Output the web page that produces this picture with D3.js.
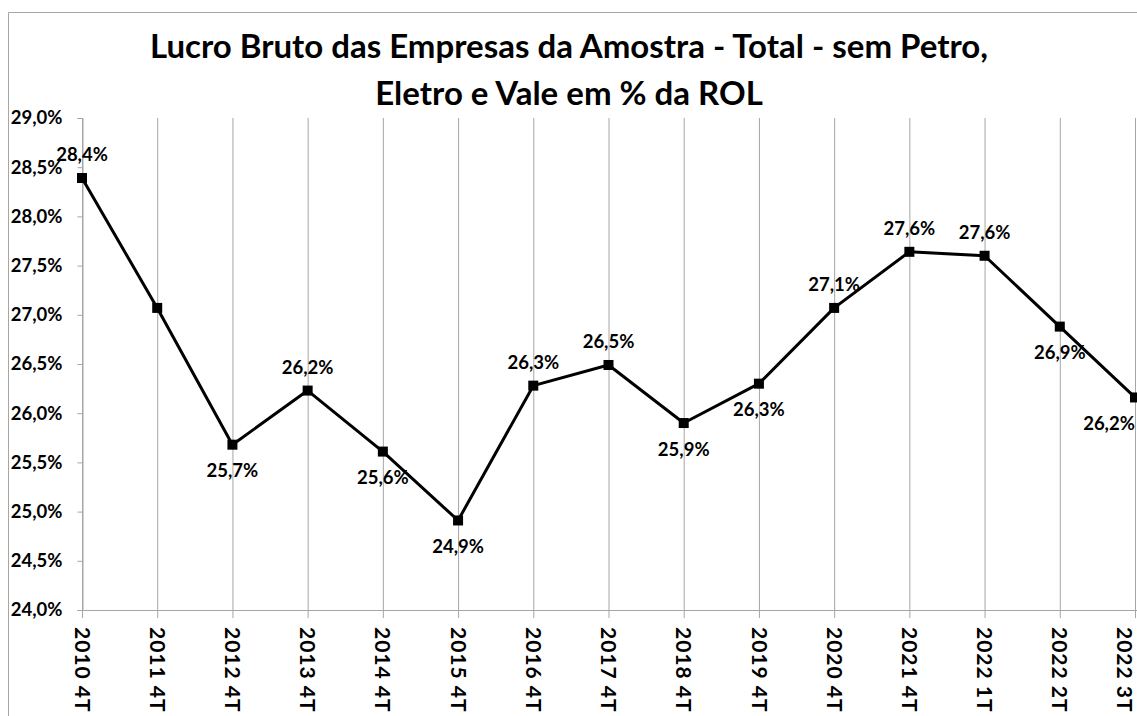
<!DOCTYPE html>
<html>
<head>
<meta charset="utf-8">
<script src="https://cdn.jsdelivr.net/npm/d3@7"></script>
<style>
  body { margin: 0; background: #fff; }
  svg { display: block; font-family: Lato, "Open Sans", sans-serif; }
</style>
</head>
<body>
<svg id="chart" width="1137" height="716"></svg>
<script>
// categories and values (% da ROL)
var categories = ["2010 4T", "2011 4T", "2012 4T", "2013 4T", "2014 4T", "2015 4T", "2016 4T",
  "2017 4T", "2018 4T", "2019 4T", "2020 4T", "2021 4T", "2022 1T", "2022 2T", "2022 3T"];
var values = [28.39, 27.07, 25.68, 26.23, 25.61, 24.91, 26.28, 26.49, 25.90, 26.30, 27.07, 27.64, 27.60, 26.88, 26.16];
var labelPos = ["t", null, "b", "t", "b", "b", "t", "t", "b", "b", "t", "t", "t", "b", "b"];
var yTicks = [24, 24.5, 25, 25.5, 26, 26.5, 27, 27.5, 28, 28.5, 29];
var titleLines = ["Lucro Bruto das Empresas da Amostra - Total - sem Petro,", "Eletro e Vale em % da ROL"];

var svg = d3.select("#chart"),
  width = 1137,
  height = 716;

var fmt = function (v) { return v.toFixed(1).replace(".", ",") + "%"; };

// outer chart border (cut by the window on right/bottom)
svg.append("path")
  .attr("d", "M8.5," + height + "V12.5H" + width)
  .attr("fill", "none")
  .attr("stroke", "#a6a6a6");

var x = d3.scalePoint().domain(categories).range([82, 1135]);
var y = d3.scaleLinear().domain([24, 29]).range([610, 118]);

// title
svg.append("g").selectAll("text")
  .data(titleLines)
  .enter().append("text")
  .attr("x", 569)
  .attr("y", function (d, i) { return 58 + i * 47; })
  .attr("text-anchor", "middle")
  .attr("font-weight", "bold")
  .attr("font-size", 33)
  .text(function (d) { return d; });

// vertical gridlines + ticks below the axis
svg.append("g")
  .attr("transform", "translate(0,610)")
  .call(d3.axisBottom(x).tickSize(8).tickFormat(""))
  .call(function (g) {
    g.select(".domain").remove();
    g.selectAll(".tick line").attr("y1", 118 - 610).attr("stroke", "#a6a6a6");
  });

// x axis line
svg.append("line")
  .attr("x1", 82).attr("x2", width)
  .attr("y1", 610.5).attr("y2", 610.5)
  .attr("stroke", "#a6a6a6");

// y axis
svg.append("g")
  .attr("transform", "translate(82.5,0)")
  .call(d3.axisLeft(y).tickValues(yTicks).tickSize(5).tickPadding(15).tickFormat(fmt))
  .call(function (g) {
    g.select(".domain").attr("stroke", "#a6a6a6");
    g.selectAll(".tick line").attr("stroke", "#a6a6a6");
    g.selectAll(".tick text")
      .attr("font-size", 18.5)
      .attr("font-weight", "bold")
      .attr("fill", "#000")
      .attr("font-family", "Lato, sans-serif");
  });

// x tick labels rotated
svg.append("g").selectAll("text")
  .data(categories)
  .enter().append("text")
  .attr("transform", function (d) { return "translate(" + Math.min(x(d), width - 13) + ",627) rotate(90)"; })
  .attr("dy", "0.35em")
  .attr("font-size", 21)
  .attr("font-weight", "bold")
  .attr("letter-spacing", 1)
  .text(function (d) { return d; });

// line
var line = d3.line()
  .x(function (d, i) { return x(categories[i]); })
  .y(function (d) { return y(d); });

svg.append("path")
  .datum(values)
  .attr("d", line)
  .attr("fill", "none")
  .attr("stroke", "#000")
  .attr("stroke-width", 3)
  .attr("stroke-linejoin", "round");

// markers
svg.append("g").selectAll("rect")
  .data(values)
  .enter().append("rect")
  .attr("x", function (d, i) { return x(categories[i]) - 5; })
  .attr("y", function (d) { return y(d) - 5; })
  .attr("width", 10)
  .attr("height", 10)
  .attr("fill", "#000");

// data labels
svg.append("g").selectAll("text")
  .data(values.map(function (v, i) { return { v: v, i: i }; }).filter(function (d) { return labelPos[d.i]; }))
  .enter().append("text")
  .attr("x", function (d) {
    var px = x(categories[d.i]);
    return Math.min(px, width - 28);
  })
  .attr("y", function (d) { return y(d.v) + (labelPos[d.i] === "t" ? -23 : 26); })
  .attr("dy", "0.35em")
  .attr("text-anchor", "middle")
  .attr("font-size", 18.5)
  .attr("font-weight", "bold")
  .text(function (d) { return fmt(d.v); });
</script>
</body>
</html>
